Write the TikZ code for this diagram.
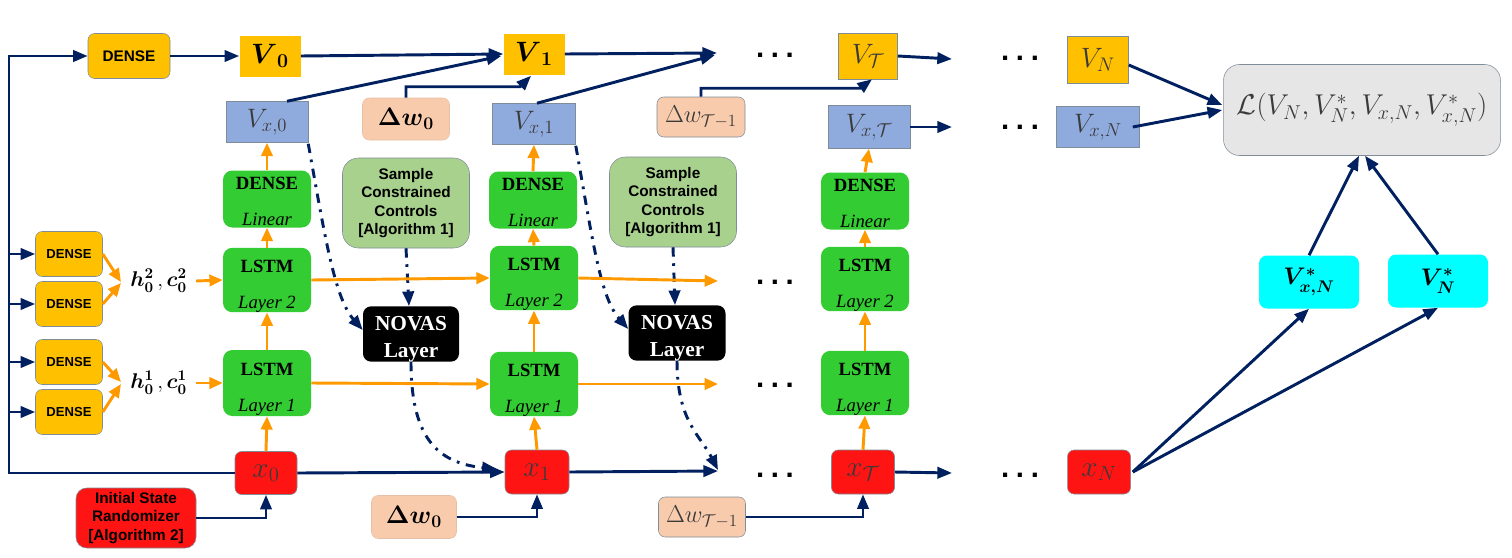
\RequirePackage{fix-cm}
\documentclass[tikz,border=0pt]{standalone}
\usepackage{amsmath,amssymb}
\usepackage[no-math]{fontspec}
\setmainfont{Liberation Serif}
\setsansfont{Liberation Sans}
\usetikzlibrary{arrows.meta,calc}
\definecolor{navy}{HTML}{002060}
\definecolor{orng}{HTML}{FF9900}
\definecolor{yel}{HTML}{FFC000}
\definecolor{blu}{HTML}{8FAADC}
\definecolor{pch}{HTML}{F8CBAD}
\definecolor{lgr}{HTML}{A9D18E}
\definecolor{grn}{HTML}{33CC33}
\definecolor{rd}{HTML}{FF1414}
\definecolor{cyn}{HTML}{00FFFF}
\definecolor{lgray}{HTML}{E6E6E6}
\definecolor{bord}{HTML}{7F8C99}
\definecolor{txg}{HTML}{3A3A3A}
\begin{document}
\begin{tikzpicture}[x=0.75pt,y=-0.75pt,
  sz/.style 2 args={minimum width=#1*0.75pt, minimum height=#2*0.75pt, inner sep=0pt},
  ybox/.style={fill=yel, draw=bord, rounded corners=5pt, font=\fontsize{11.5}{13}\sffamily\bfseries},
  sdense/.style={fill=yel, draw=bord, rounded corners=5pt, font=\fontsize{9.8}{11}\sffamily\bfseries},
  vbox/.style={fill=yel, font=\fontsize{21}{22}\selectfont},
  vgbox/.style={fill=yel, draw=bord, text=txg, font=\fontsize{21}{22}\selectfont},
  bbox/.style={fill=blu, draw=bord, text=txg, font=\fontsize{20}{22}\selectfont},
  pbox/.style={fill=pch, draw=pch!85!gray, rounded corners=5pt, font=\fontsize{19}{20}\selectfont},
  pgbox/.style={fill=pch, draw=bord, rounded corners=5pt, text=txg, font=\fontsize{18.3}{20}\selectfont},
  gbox/.style={fill=grn, rounded corners=7pt, align=center, font=\fontsize{14}{27}\selectfont},
  gdense/.style={gbox, text height=39.3pt},
  glstm/.style={gbox, text height=45.3pt},
  sbox/.style={fill=lgr, draw=bord, rounded corners=12pt, align=center, font=\fontsize{11.5}{13.75}\sffamily\bfseries},
  nbox/.style={fill=black, text=white, rounded corners=6pt, align=center, text height=38pt, font=\fontsize{16}{20}\bfseries},
  rbox/.style={fill=rd, draw=bord, rounded corners=5pt, text=txg, font=\fontsize{22}{22}\selectfont},
  rtbox/.style={fill=rd, draw=bord, rounded corners=8pt, align=center, font=\fontsize{11.5}{13.75}\sffamily\bfseries},
  cbox/.style={fill=cyn, rounded corners=6pt, font=\fontsize{18}{20}\selectfont},
  lbox/.style={fill=lgray, draw=bord, rounded corners=12pt, text=txg, font=\fontsize{21.5}{22}\selectfont},
  dots/.style={font=\fontsize{22}{22}\sffamily\bfseries, inner sep=0pt},
  nv/.style={draw=navy, line width=2.2pt, -{Triangle[length=11pt,width=8.5pt]}},
  og/.style={draw=orng, line width=2.2pt, -{Triangle[length=10pt,width=8.5pt]}},
  dd/.style={draw=navy, line width=2.2pt, dash pattern=on 7pt off 5pt on 2pt off 5pt, -{Triangle[length=11pt,width=8.5pt]}}
]
\fill[white] (0,0) rectangle (1512,557);
\useasboundingbox (0,0) rectangle (1512,557);

% ---- top row
\node[ybox, sz={82}{45}] (dtop) at (129,56) {DENSE};
\node[vbox, sz={61}{41}] (V0) at (270,56) {$\boldsymbol{V}_{\mathbf{0}}$};
\node[vbox, sz={61}{41}] (V1) at (534,54) {$\boldsymbol{V}_{\mathbf{1}}$};
\node[vgbox, sz={59}{46}] (VT) at (868,56) {$V_{\mathcal{T}}$};
\node[vgbox, sz={61}{47}] (VN) at (1098,60) {$V_N$};
\node[lbox, sz={277}{91}] (L) at (1362,110) {$\mathcal{L}(V_N, V_N^*, V_{x,N}, V_{x,N}^*)$};

% ---- V_x row
\node[bbox, sz={82}{41}] (Vx0) at (267,122) {$V_{x,0}$};
\node[pbox, sz={87}{42}] (dw0t) at (406,119) {$\boldsymbol{\Delta w}_{\mathbf{0}}$};
\node[bbox, sz={83}{41}] (Vx1) at (534,124) {$V_{x,1}$};
\node[pgbox, sz={88}{40}] (dwTt) at (701,117) {$\Delta w_{\mathcal{T}-1}$};
\node[bbox, sz={82}{43}] (VxT) at (869,127) {$V_{x,\mathcal{T}}$};
\node[bbox, sz={83}{41}] (VxN) at (1098,127) {$V_{x,N}$};

% ---- dense linear
\node[gdense, sz={88}{57}] (den0) at (267,199) {\textbf{DENSE}\\\textit{Linear}};
\node[gdense, sz={88}{57}] (den1) at (533,200) {\textbf{DENSE}\\\textit{Linear}};
\node[gdense, sz={88}{57}] (den2) at (865,201) {\textbf{DENSE}\\\textit{Linear}};
\node[sbox, sz={127}{90}] (sc0) at (406,203) {Sample\\Constrained\\Controls\\{[Algorithm 1]}};
\node[sbox, sz={127}{90}] (sc1) at (673,202) {Sample\\Constrained\\Controls\\{[Algorithm 1]}};

% ---- LSTM layer 2
\node[glstm, sz={88}{61}] (l2a) at (267,280) {\textbf{LSTM}\\\textit{Layer 2}};
\node[glstm, sz={88}{60}] (l2b) at (534,278) {\textbf{LSTM}\\\textit{Layer 2}};
\node[glstm, sz={88}{61}] (l2c) at (865,279) {\textbf{LSTM}\\\textit{Layer 2}};
% ---- LSTM layer 1
\node[glstm, sz={88}{66}] (l1a) at (267,383) {\textbf{LSTM}\\\textit{Layer 1}};
\node[glstm, sz={88}{64}] (l1b) at (534,384) {\textbf{LSTM}\\\textit{Layer 1}};
\node[glstm, sz={88}{63}] (l1c) at (865,383) {\textbf{LSTM}\\\textit{Layer 1}};

% ---- NOVAS
\node[nbox, sz={96}{53}] (nov0) at (411,334) {NOVAS\\Layer};
\node[nbox, sz={97}{54}] (nov1) at (677,333) {NOVAS\\Layer};

% ---- left dense boxes
\node[sdense, sz={67}{45}] (d1) at (69,254) {DENSE};
\node[sdense, sz={67}{45}] (d2) at (69,304) {DENSE};
\node[sdense, sz={67}{45}] (d3) at (69,362) {DENSE};
\node[sdense, sz={67}{45}] (d4) at (69,412) {DENSE};
\node[anchor=west, inner xsep=6.75pt, inner ysep=2pt, font=\fontsize{16}{17}\selectfont] (h2) at (121,281) {$\boldsymbol{h_0^2}\,,\boldsymbol{c_0^2}$};
\node[anchor=west, inner xsep=6.75pt, inner ysep=2pt, font=\fontsize{16}{17}\selectfont] (h1) at (121,383) {$\boldsymbol{h_0^1}\,,\boldsymbol{c_0^1}$};

% ---- x row
\node[rbox, sz={62}{43}] (x0) at (266,473) {$x_0$};
\node[rbox, sz={64}{44}] (x1) at (537,472) {$x_1$};
\node[rbox, sz={63}{44}] (xT) at (863,472) {$x_{\mathcal{T}}$};
\node[rbox, sz={63}{44}] (xN) at (1099,472) {$x_N$};

% ---- cyan
\node[cbox, sz={100}{53}] (vsx) at (1309,282) {$\boldsymbol{V^*_{x,N}}$};
\node[cbox, sz={100}{53}] (vsn) at (1438,281) {$\boldsymbol{V^*_N}$};

% ---- bottom
\node[rtbox, sz={120}{60}] (isr) at (136,518) {Initial State\\Randomizer\\{[Algorithm 2]}};
\node[pbox, sz={85}{43}] (dw0b) at (414,517) {$\boldsymbol{\Delta w}_{\mathbf{0}}$};
\node[pgbox, sz={87}{40}] (dwTb) at (702,517) {$\Delta w_{\mathcal{T}-1}$};

% ---- dots
\node[dots] (dt1) at (775,55) {.\hspace{5pt}.\hspace{5pt}.};
\node[dots] (dt2) at (1020,58) {.\hspace{5pt}.\hspace{5pt}.};
\node[dots] (dt3) at (1020,127) {.\hspace{5pt}.\hspace{5pt}.};
\node[dots] (dt4) at (775,282) {.\hspace{5pt}.\hspace{5pt}.};
\node[dots] (dt5) at (775,385) {.\hspace{5pt}.\hspace{5pt}.};
\node[dots] (dt6) at (775,475) {.\hspace{5pt}.\hspace{5pt}.};
\node[dots] (dt7) at (1020,475) {.\hspace{5pt}.\hspace{5pt}.};

% ---- free ends
\coordinate (e1) at (717,53);
\coordinate (eT) at (952,59);
\coordinate (exT) at (952,127);
\coordinate (el2) at (718,281);
\coordinate (el1) at (718,384);
\coordinate (ex1) at (718,471);
\coordinate (exT2) at (952,473);
\coordinate (lc) at (9,473);

% ---- navy connectors (top)
\draw[nv] (dtop.east) -- (V0.west);
\draw[nv] (V0.east) -- (V1.west);
\draw[nv] ($(Vx0.north)+(20,0)$) -- ($(V1.west)+(-2,2)$);
\draw[nv] (dw0t.north) |- ($(V1.south)+(-14,12)$) -- ($(V1.south)+(-3,1)$);
\draw[nv] (V1.east) -- (e1);
\draw[nv] ($(Vx1.north)+(3,0)$) -- ($(e1)+(-2,2)$);
\draw[nv] (dwTt.north) |- ($(VT.south)+(-8,9)$) -- ($(VT.south)+(4,0)$);
\draw[nv] (VT.east) -- (eT);
\draw[nv] (VxT.east) -- (exT);
\draw[nv] ($(VN.east)+(0,5)$) -- ($(L.west)+(-1,-5)$);
\draw[nv] ($(VxN.east)+(-7,0)$) -- ($(L.west)+(-1,0)$);
\draw[nv] (vsx.north) -- ($(L.south)+(-3,0)$);
\draw[nv] (vsn.north) -- ($(L.south)+(3,0)$);
\draw[nv] ($(xN.east)+(2,0)$) -- (vsx.south);
\draw[nv] ($(xN.east)+(2,0)$) -- (vsn.south);

% ---- navy left bus
\draw[nv] (x0.west) -- (lc) |- (dtop.west);
\foreach \d in {d1,d2,d3,d4}{\draw[nv] (lc |- \d.west) -- (\d.west);}
\draw[nv] (x0.east) -- (x1.west);
\draw[nv] (x1.east) -- (ex1);
\draw[nv] (xT.east) -- (exT2);
\draw[nv] (isr.east) -| (x0.south);
\draw[nv] (dw0b.east) -| (x1.south);
\draw[nv] (dwTb.east) -| (xT.south);

% ---- dash-dot
\draw[dd] ($(Vx0.south east)+(0,1)$) .. controls +(17,95) and +(-28,-32) .. ($(nov0.west)+(0,-4)$);
\draw[dd] (sc0.south) -- ($(nov0.north)+(-2,0)$);
\draw[dd] (nov0.south) .. controls +(0,75) and +(-60,-6) .. ($(x1.west)+(-8,-3)$);
\draw[dd] ($(Vx1.south east)+(0,1)$) .. controls +(17,95) and +(-28,-32) .. ($(nov1.west)+(0,-4)$);
\draw[dd] (sc1.south) -- ($(nov1.north)+(-2,0)$);
\draw[dd] (nov1.south) .. controls +(0,60) and +(-18,-35) .. ($(ex1)+(0,-1)$);

% ---- orange
\draw[og] (d1.east) -- ($(h2.west)+(0,1)$);
\draw[og] (d2.east) -- ($(h2.west)+(0,2)$);
\draw[og] (d3.east) -- ($(h1.west)+(0,-1)$);
\draw[og] (d4.east) -- ($(h1.west)+(0,1)$);
\draw[og] (h2.east) -- (l2a.west);
\draw[og] (h1.east) -- (l1a.west);
\foreach \a/\b/\c/\dd/\e in {x0/l1a/l2a/den0/Vx0, x1/l1b/l2b/den1/Vx1, xT/l1c/l2c/den2/VxT}{
  \draw[og] (\a.north) -- (\b.south);
  \draw[og] (\b.north) -- (\c.south);
  \draw[og] (\c.north) -- (\dd.south);
  \draw[og] (\dd.north) -- (\e.south);
}
\draw[og] (l2a.east) -- (l2b.west);
\draw[og] (l2b.east) -- (el2);
\draw[og] (l1a.east) -- (l1b.west);
\draw[og] (l1b.east) -- (el1);
\end{tikzpicture}
\end{document}
